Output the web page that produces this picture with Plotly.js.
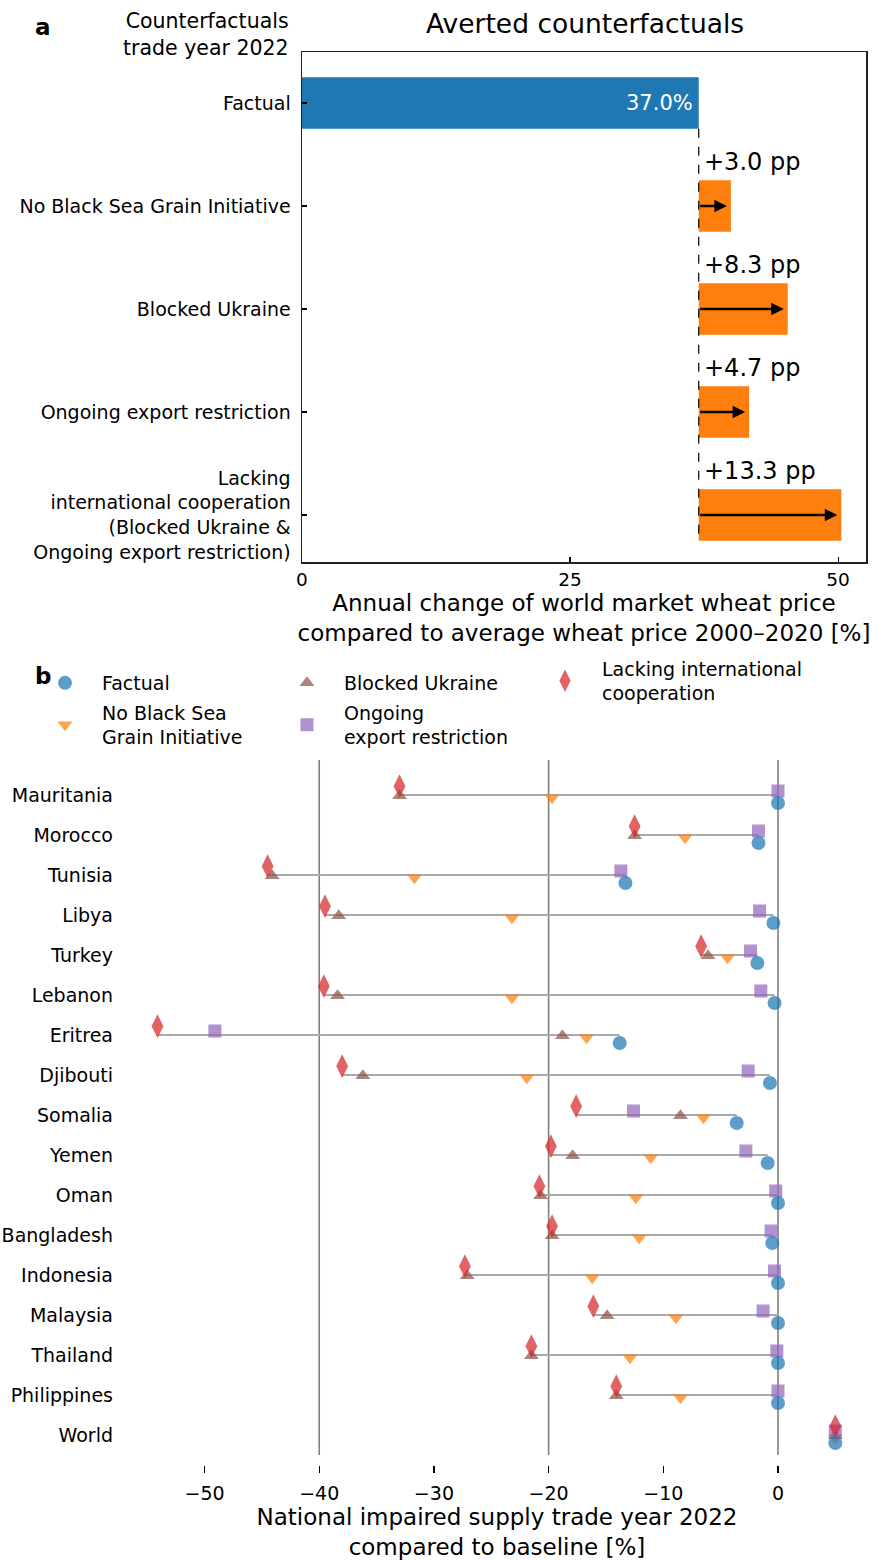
<!DOCTYPE html>
<html><head><meta charset="utf-8">
<script src="https://cdn.plot.ly/plotly-3.0.1.min.js"></script>
<style>body{margin:0;background:#fff}#chart{width:883px;height:1560px}</style>
</head><body><div id="chart"></div>
<script>
// ---- Panel a data ----
const scenarios = ["Factual", "No Black Sea Grain Initiative", "Blocked Ukraine", "Ongoing export restriction",
  "Lacking<br>international cooperation<br>(Blocked Ukraine &<br>Ongoing export restriction)"];
const factualPrice = 37.0;
const priceIncrease = [3.0, 8.3, 4.7, 13.3];
const priceTicks = [0, 25, 50];

// ---- Panel b data ----
const countries = ["Mauritania","Morocco","Tunisia","Libya","Turkey","Lebanon","Eritrea","Djibouti","Somalia",
  "Yemen","Oman","Bangladesh","Indonesia","Malaysia","Thailand","Philippines","World"];
const factual  = [0.0, -1.7, -13.3, -0.4, -1.8, -0.3, -13.8, -0.7, -3.6, -0.9, 0.0, -0.5, 0.0, 0.0, 0.0, 0.0, 5.0];
const noBSGI   = [-19.7, -8.1, -31.7, -23.2, -4.4, -23.2, -16.7, -21.9, -6.5, -11.1, -12.4, -12.1, -16.2, -8.9, -12.9, -8.5, 5.0];
const blocked  = [-33.0, -12.5, -44.1, -38.3, -6.1, -38.4, -18.8, -36.2, -8.5, -17.9, -20.7, -19.7, -27.1, -14.9, -21.5, -14.1, 5.0];
const ongoing  = [0.0, -1.7, -13.7, -1.6, -2.4, -1.5, -49.1, -2.6, -12.6, -2.8, -0.2, -0.6, -0.3, -1.3, -0.1, 0.0, 5.0];
const lacking  = [-33.0, -12.5, -44.5, -39.5, -6.7, -39.6, -54.1, -38.0, -17.6, -19.8, -20.8, -19.7, -27.3, -16.1, -21.5, -14.1, 5.0];
const supplyTicks = [-50, -40, -30, -20, -10, 0];
const gridValues = [-40, -20, 0];

const W = 883, H = 1560;
const FONT = "'DejaVu Sans', sans-serif";
const px = v => v / W, py = v => 1 - v / H;

const traces = [];
// Panel a bars
traces.push({type:'bar', orientation:'h', x:[factualPrice], y:[0], width:0.5,
  marker:{color:'#1f77b4'}, xaxis:'x', yaxis:'y', showlegend:false, hoverinfo:'skip'});
traces.push({type:'bar', orientation:'h', x:priceIncrease, y:priceIncrease.map((_, i) => i + 1),
  base:priceIncrease.map(() => factualPrice), width:0.5,
  marker:{color:'#ff7f0e'}, xaxis:'x', yaxis:'y', showlegend:false, hoverinfo:'skip'});

// Panel b row lines
const lx = [], ly = [];
countries.forEach((c, i) => {
  const vals = [factual[i], noBSGI[i], blocked[i], ongoing[i], lacking[i]];
  lx.push(Math.min(...vals), Math.max(...vals), null);
  ly.push(i, i, null);
});
traces.push({type:'scatter', mode:'lines', x:lx, y:ly, line:{color:'#aaaaaa', width:2},
  xaxis:'x2', yaxis:'y2', showlegend:false, hoverinfo:'skip'});

const series = [
  {name:'No Black Sea<br>Grain Initiative', data:noBSGI, sym:'triangle-down', color:'#ff7f0e', off:0.07, leg:'legend2', rank:1, size:13},
  {name:'Blocked Ukraine', data:blocked, sym:'triangle-up', color:'#8c564b', off:0.02, leg:'legend', rank:2, size:13},
  {name:'Ongoing<br>export restriction', data:ongoing, sym:'square', color:'#9467bd', off:-0.1, leg:'legend2', rank:2, size:13},
  {name:'Lacking international<br>cooperation', data:lacking, sym:'diamond-tall', color:'#d62728', off:-0.22, leg:'legend3', rank:1, size:17},
  {name:'Factual', data:factual, sym:'circle', color:'#1f77b4', off:0.2, leg:'legend', rank:1, size:14},
];
series.forEach(s => {
  traces.push({type:'scatter', mode:'markers', name:s.name, x:s.data,
    y:s.data.map((_, i) => i + s.off), xaxis:'x2', yaxis:'y2', legend:s.leg, legendrank:s.rank,
    marker:{symbol:s.sym, color:s.color, size:s.size, opacity:0.72, line:{width:0}}});
});

const annotations = [
  {text:'<b>a</b>', xref:'paper', yref:'paper', x:px(33), y:py(27), yanchor:'middle', showarrow:false, font:{size:23}},
  {text:'<b>b</b>', xref:'paper', yref:'paper', x:px(33), y:py(676), yanchor:'middle', showarrow:false, font:{size:23}},
  {text:'Averted counterfactuals', xref:'paper', yref:'paper', x:px(585), y:py(24), yanchor:'middle', showarrow:false, font:{size:26.5}},
  {text:'Counterfactuals<br>trade year 2022', xref:'paper', yref:'paper', x:px(291), y:py(34), xanchor:'right', yanchor:'middle', align:'right', showarrow:false, font:{size:20.5}},
  {text: factualPrice.toFixed(1) + '%', xref:'x', yref:'y', x:factualPrice, y:0, xanchor:'right', xshift:-4, showarrow:false, font:{size:21, color:'white'}},
];
priceIncrease.forEach((v, i) => {
  annotations.push({text:'+' + v.toFixed(1) + ' pp', xref:'x', yref:'y', x:factualPrice, y:i + 1 - 0.43,
    xanchor:'left', yanchor:'middle', xshift:3, showarrow:false, font:{size:24}});
  annotations.push({text:'', xref:'x', yref:'y', axref:'x', ayref:'y', x:factualPrice + v, y:i + 1,
    ax:factualPrice, ay:i + 1, showarrow:true, arrowhead:2, arrowsize:1, arrowwidth:2.5, arrowcolor:'black', standoff:4});
});

const shapes = [
  {type:'line', xref:'x', yref:'y', x0:factualPrice, x1:factualPrice, y0:0.25, y1:priceIncrease.length + 0.25,
    line:{color:'black', width:1.2, dash:'dash'}},
];
gridValues.forEach(g => shapes.push({type:'line', xref:'x2', yref:'y2', x0:g, x1:g, y0:-0.875, y1:16.5,
  layer:'below', line:{color:'#7f7f7f', width:1.6}}));

const legendBase = {orientation:'h', xanchor:'left', yanchor:'middle', entrywidth:163, entrywidthmode:'pixels',
  itemwidth:64, font:{size:19}, bgcolor:'rgba(0,0,0,0)', traceorder:'normal', itemclick:false, borderwidth:0};

const layout = {
  width:W, height:H, margin:{l:0, r:0, t:0, b:0},
  paper_bgcolor:'white', plot_bgcolor:'white',
  font:{family:FONT, size:17, color:'black'},
  showlegend:true, barmode:'overlay',
  xaxis:{domain:[px(302), px(866)], range:[0, 52.6], anchor:'y', tickvals:priceTicks,
    ticks:'inside', ticklen:5, tickwidth:1.2, tickcolor:'black', showline:true, mirror:true,
    linecolor:'#222', linewidth:1.5, showgrid:false, zeroline:false, tickfont:{size:18.5},
    title:{text:'Annual change of world market wheat price<br>compared to average wheat price 2000–2020 [%]',
      font:{size:23}, standoff:4}},
  yaxis:{domain:[py(562), py(52)], range:[4.456, -0.495], anchor:'x', tickvals:scenarios.map((_, i) => i),
    ticktext:scenarios, ticks:'inside', ticklen:5, tickwidth:1.2, tickcolor:'black', showline:true, mirror:true,
    linecolor:'#222', linewidth:1.5, showgrid:false, zeroline:false, tickfont:{size:19}, ticklabelstandoff:6},
  xaxis2:{domain:[px(130), px(864)], range:[-56.5, 7.5], anchor:'y2', tickvals:supplyTicks,
    ticks:'outside', ticklen:7, tickwidth:1.2, tickcolor:'black', showline:false, showgrid:false, zeroline:false,
    tickfont:{size:19}, ticklabelstandoff:4,
    title:{text:'National impaired supply trade year 2022<br>compared to baseline [%]', font:{size:23}, standoff:4}},
  yaxis2:{domain:[py(1465), py(760)], range:[16.75, -0.875], anchor:'x2', tickvals:countries.map((_, i) => i),
    ticktext:countries, ticks:'', showline:false, showgrid:false, zeroline:false, tickfont:{size:19},
    ticklabelstandoff:16},
  legend:Object.assign({}, legendBase, {x:px(28), y:py(683)}),
  legend2:Object.assign({}, legendBase, {x:px(28), y:py(725)}),
  legend3:Object.assign({}, legendBase, {x:px(528), y:py(681), entrywidth:0}),
  annotations, shapes,
};

Plotly.newPlot('chart', traces, layout, {staticPlot:true, displayModeBar:false});
</script>
</body></html>
